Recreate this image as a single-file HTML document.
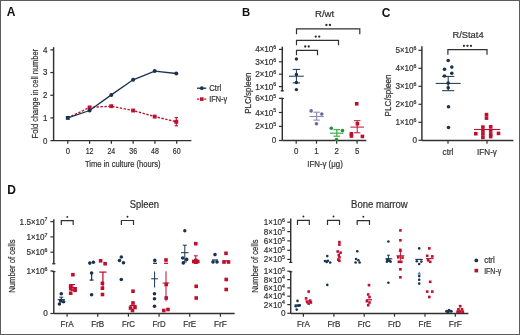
<!DOCTYPE html>
<html><head><meta charset="utf-8"><style>
html,body{margin:0;padding:0;background:#fff;}
svg{display:block;will-change:transform;}
text{font-family:"Liberation Sans", sans-serif;}
</style></head><body>
<svg width="520" height="335" viewBox="0 0 520 335">
<rect x="0.5" y="0.5" width="519" height="334" fill="#fff" stroke="#5c5c5c" stroke-width="1"/>
<text x="6.80" y="16.30" font-size="12.0" text-anchor="start" fill="#111" font-weight="bold" >A</text>
<line x1="53.60" y1="47.20" x2="53.60" y2="141.10" stroke="#303030" stroke-width="1.45" />
<line x1="53.60" y1="140.60" x2="191.40" y2="140.60" stroke="#303030" stroke-width="1.45" />
<line x1="50.40" y1="140.60" x2="53.60" y2="140.60" stroke="#303030" stroke-width="1.25" />
<text x="47.40" y="143.50" font-size="8.6" text-anchor="end" fill="#333333" font-weight="normal" stroke="#333333" stroke-width="0.22" textLength="4.4" lengthAdjust="spacingAndGlyphs" >0</text>
<line x1="50.40" y1="117.92" x2="53.60" y2="117.92" stroke="#303030" stroke-width="1.25" />
<text x="47.40" y="120.82" font-size="8.6" text-anchor="end" fill="#333333" font-weight="normal" stroke="#333333" stroke-width="0.22" textLength="4.4" lengthAdjust="spacingAndGlyphs" >1</text>
<line x1="50.40" y1="95.24" x2="53.60" y2="95.24" stroke="#303030" stroke-width="1.25" />
<text x="47.40" y="98.14" font-size="8.6" text-anchor="end" fill="#333333" font-weight="normal" stroke="#333333" stroke-width="0.22" textLength="4.4" lengthAdjust="spacingAndGlyphs" >2</text>
<line x1="50.40" y1="72.56" x2="53.60" y2="72.56" stroke="#303030" stroke-width="1.25" />
<text x="47.40" y="75.46" font-size="8.6" text-anchor="end" fill="#333333" font-weight="normal" stroke="#333333" stroke-width="0.22" textLength="4.4" lengthAdjust="spacingAndGlyphs" >3</text>
<line x1="50.40" y1="49.88" x2="53.60" y2="49.88" stroke="#303030" stroke-width="1.25" />
<text x="47.40" y="52.78" font-size="8.6" text-anchor="end" fill="#333333" font-weight="normal" stroke="#333333" stroke-width="0.22" textLength="4.4" lengthAdjust="spacingAndGlyphs" >4</text>
<line x1="67.80" y1="140.60" x2="67.80" y2="143.80" stroke="#303030" stroke-width="1.25" />
<text x="67.80" y="153.70" font-size="8.8" text-anchor="middle" fill="#333333" font-weight="normal" stroke="#333333" stroke-width="0.22" textLength="4.3" lengthAdjust="spacingAndGlyphs" >0</text>
<line x1="89.58" y1="140.60" x2="89.58" y2="143.80" stroke="#303030" stroke-width="1.25" />
<text x="89.58" y="153.70" font-size="8.8" text-anchor="middle" fill="#333333" font-weight="normal" stroke="#333333" stroke-width="0.22" textLength="7.8" lengthAdjust="spacingAndGlyphs" >12</text>
<line x1="111.36" y1="140.60" x2="111.36" y2="143.80" stroke="#303030" stroke-width="1.25" />
<text x="111.36" y="153.70" font-size="8.8" text-anchor="middle" fill="#333333" font-weight="normal" stroke="#333333" stroke-width="0.22" textLength="7.8" lengthAdjust="spacingAndGlyphs" >24</text>
<line x1="133.14" y1="140.60" x2="133.14" y2="143.80" stroke="#303030" stroke-width="1.25" />
<text x="133.14" y="153.70" font-size="8.8" text-anchor="middle" fill="#333333" font-weight="normal" stroke="#333333" stroke-width="0.22" textLength="7.8" lengthAdjust="spacingAndGlyphs" >36</text>
<line x1="154.92" y1="140.60" x2="154.92" y2="143.80" stroke="#303030" stroke-width="1.25" />
<text x="154.92" y="153.70" font-size="8.8" text-anchor="middle" fill="#333333" font-weight="normal" stroke="#333333" stroke-width="0.22" textLength="7.8" lengthAdjust="spacingAndGlyphs" >48</text>
<line x1="176.70" y1="140.60" x2="176.70" y2="143.80" stroke="#303030" stroke-width="1.25" />
<text x="176.70" y="153.70" font-size="8.8" text-anchor="middle" fill="#333333" font-weight="normal" stroke="#333333" stroke-width="0.22" textLength="7.8" lengthAdjust="spacingAndGlyphs" >60</text>
<text x="85.00" y="166.60" font-size="9.7" text-anchor="start" fill="#333333" font-weight="normal" stroke="#333333" stroke-width="0.22" textLength="75.5" lengthAdjust="spacingAndGlyphs" >Time in culture (hours)</text>
<text x="38.10" y="138.40" font-size="9.0" text-anchor="start" fill="#333333" font-weight="normal" stroke="#333333" stroke-width="0.22" textLength="89.5" lengthAdjust="spacingAndGlyphs" transform="rotate(-90 38.10 138.40)" >Fold change in cell number</text>
<polyline points="67.8,117.9 89.6,107.4 111.3,106.2 133.1,110.5 154.7,116.6 176.3,121.8" fill="none" stroke="#be0f2e" stroke-width="1.4" stroke-dasharray="2.4,1.5"/>
<polyline points="67.8,117.9 89.6,110.5 111.3,94.9 133.1,79.8 154.7,71.1 176.3,73.5" fill="none" stroke="#18324f" stroke-width="1.3"/>
<line x1="176.30" y1="117.60" x2="176.30" y2="125.80" stroke="#be0f2e" stroke-width="1.1" />
<line x1="174.60" y1="117.60" x2="178.00" y2="117.60" stroke="#be0f2e" stroke-width="1.1" />
<line x1="174.60" y1="125.80" x2="178.00" y2="125.80" stroke="#be0f2e" stroke-width="1.1" />
<rect x="87.65" y="105.45" width="3.9" height="3.9" fill="#be0f2e"/>
<rect x="109.35" y="104.25" width="3.9" height="3.9" fill="#be0f2e"/>
<rect x="131.15" y="108.55" width="3.9" height="3.9" fill="#be0f2e"/>
<rect x="152.75" y="114.65" width="3.9" height="3.9" fill="#be0f2e"/>
<rect x="174.35" y="119.85" width="3.9" height="3.9" fill="#be0f2e"/>
<circle cx="89.60" cy="110.50" r="2.0" fill="#18324f"/>
<circle cx="111.30" cy="94.90" r="2.0" fill="#18324f"/>
<circle cx="133.10" cy="79.80" r="2.0" fill="#18324f"/>
<circle cx="154.70" cy="71.10" r="2.0" fill="#18324f"/>
<circle cx="176.30" cy="73.50" r="2.0" fill="#18324f"/>
<rect x="65.85" y="115.95" width="3.9" height="3.9" fill="#18324f"/>
<line x1="197.00" y1="88.20" x2="206.30" y2="88.20" stroke="#18324f" stroke-width="1.3" />
<circle cx="201.80" cy="88.20" r="1.9" fill="#18324f"/>
<text x="209.20" y="91.10" font-size="8.8" text-anchor="start" fill="#333333" font-weight="normal" stroke="#333333" stroke-width="0.22" textLength="12.0" lengthAdjust="spacingAndGlyphs" >Ctrl</text>
<line x1="197.0" y1="99.1" x2="206.3" y2="99.1" stroke="#be0f2e" stroke-width="1.4" stroke-dasharray="2.2,1.4"/>
<rect x="200.00" y="97.30" width="3.6" height="3.6" fill="#be0f2e"/>
<text x="209.20" y="102.20" font-size="8.8" text-anchor="start" fill="#333333" font-weight="normal" stroke="#333333" stroke-width="0.22" textLength="18" lengthAdjust="spacingAndGlyphs" >IFN-γ</text>
<text x="241.90" y="16.10" font-size="11.3" text-anchor="start" fill="#111" font-weight="bold" >B</text>
<text x="314.90" y="17.00" font-size="9.4" text-anchor="start" fill="#333333" font-weight="normal" stroke="#333333" stroke-width="0.22" textLength="19.4" lengthAdjust="spacingAndGlyphs" >R/wt</text>
<path d="M296.50 34.20 V28.80 H359.80 V34.20" fill="none" stroke="#303030" stroke-width="1.2"/>
<circle cx="326.40" cy="25.00" r="1.15" fill="#2a2a2a"/>
<circle cx="329.90" cy="25.00" r="1.15" fill="#2a2a2a"/>
<path d="M296.50 45.20 V40.40 H338.50 V45.20" fill="none" stroke="#303030" stroke-width="1.2"/>
<circle cx="315.75" cy="36.60" r="1.15" fill="#2a2a2a"/>
<circle cx="319.25" cy="36.60" r="1.15" fill="#2a2a2a"/>
<path d="M296.50 55.20 V50.30 H317.50 V55.20" fill="none" stroke="#303030" stroke-width="1.2"/>
<circle cx="305.25" cy="46.50" r="1.15" fill="#2a2a2a"/>
<circle cx="308.75" cy="46.50" r="1.15" fill="#2a2a2a"/>
<line x1="282.30" y1="46.70" x2="282.30" y2="91.40" stroke="#303030" stroke-width="1.45" />
<line x1="280.70" y1="90.80" x2="283.90" y2="90.80" stroke="#303030" stroke-width="1.2" />
<line x1="278.90" y1="49.40" x2="282.30" y2="49.40" stroke="#303030" stroke-width="1.2" />
<text x="276.20" y="52.40" font-size="8.6" text-anchor="end" fill="#333333" font-weight="normal" stroke="#333333" stroke-width="0.22" textLength="21.07" lengthAdjust="spacingAndGlyphs" >4<tspan font-size="95%">×</tspan>10<tspan font-size="64%" dy="-3.2">6</tspan></text>
<line x1="278.90" y1="61.80" x2="282.30" y2="61.80" stroke="#303030" stroke-width="1.2" />
<text x="276.20" y="64.80" font-size="8.6" text-anchor="end" fill="#333333" font-weight="normal" stroke="#333333" stroke-width="0.22" textLength="21.07" lengthAdjust="spacingAndGlyphs" >3<tspan font-size="95%">×</tspan>10<tspan font-size="64%" dy="-3.2">6</tspan></text>
<line x1="278.90" y1="74.20" x2="282.30" y2="74.20" stroke="#303030" stroke-width="1.2" />
<text x="276.20" y="77.20" font-size="8.6" text-anchor="end" fill="#333333" font-weight="normal" stroke="#333333" stroke-width="0.22" textLength="21.07" lengthAdjust="spacingAndGlyphs" >2<tspan font-size="95%">×</tspan>10<tspan font-size="64%" dy="-3.2">6</tspan></text>
<line x1="278.90" y1="86.60" x2="282.30" y2="86.60" stroke="#303030" stroke-width="1.2" />
<text x="276.20" y="89.60" font-size="8.6" text-anchor="end" fill="#333333" font-weight="normal" stroke="#333333" stroke-width="0.22" textLength="21.07" lengthAdjust="spacingAndGlyphs" >1<tspan font-size="95%">×</tspan>10<tspan font-size="64%" dy="-3.2">6</tspan></text>
<line x1="282.30" y1="97.90" x2="282.30" y2="140.50" stroke="#303030" stroke-width="1.45" />
<line x1="280.70" y1="98.50" x2="283.90" y2="98.50" stroke="#303030" stroke-width="1.2" />
<line x1="278.90" y1="98.30" x2="282.30" y2="98.30" stroke="#303030" stroke-width="1.2" />
<text x="276.20" y="101.30" font-size="8.6" text-anchor="end" fill="#333333" font-weight="normal" stroke="#333333" stroke-width="0.22" textLength="21.07" lengthAdjust="spacingAndGlyphs" >6<tspan font-size="95%">×</tspan>10<tspan font-size="64%" dy="-3.2">5</tspan></text>
<line x1="278.90" y1="112.50" x2="282.30" y2="112.50" stroke="#303030" stroke-width="1.2" />
<text x="276.20" y="115.50" font-size="8.6" text-anchor="end" fill="#333333" font-weight="normal" stroke="#333333" stroke-width="0.22" textLength="21.07" lengthAdjust="spacingAndGlyphs" >4<tspan font-size="95%">×</tspan>10<tspan font-size="64%" dy="-3.2">5</tspan></text>
<line x1="278.90" y1="126.40" x2="282.30" y2="126.40" stroke="#303030" stroke-width="1.2" />
<text x="276.20" y="129.40" font-size="8.6" text-anchor="end" fill="#333333" font-weight="normal" stroke="#333333" stroke-width="0.22" textLength="21.07" lengthAdjust="spacingAndGlyphs" >2<tspan font-size="95%">×</tspan>10<tspan font-size="64%" dy="-3.2">5</tspan></text>
<line x1="278.90" y1="140.50" x2="282.30" y2="140.50" stroke="#303030" stroke-width="1.2" />
<text x="276.40" y="143.40" font-size="8.6" text-anchor="end" fill="#333333" font-weight="normal" stroke="#333333" stroke-width="0.22" textLength="4.54" lengthAdjust="spacingAndGlyphs" >0</text>
<line x1="282.30" y1="140.50" x2="366.30" y2="140.50" stroke="#303030" stroke-width="1.45" />
<line x1="296.20" y1="140.50" x2="296.20" y2="143.70" stroke="#303030" stroke-width="1.2" />
<text x="296.20" y="154.20" font-size="8.8" text-anchor="middle" fill="#333333" font-weight="normal" stroke="#333333" stroke-width="0.22" textLength="4.4" lengthAdjust="spacingAndGlyphs" >0</text>
<line x1="316.50" y1="140.50" x2="316.50" y2="143.70" stroke="#303030" stroke-width="1.2" />
<text x="316.50" y="154.20" font-size="8.8" text-anchor="middle" fill="#333333" font-weight="normal" stroke="#333333" stroke-width="0.22" textLength="4.4" lengthAdjust="spacingAndGlyphs" >1</text>
<line x1="336.70" y1="140.50" x2="336.70" y2="143.70" stroke="#303030" stroke-width="1.2" />
<text x="336.70" y="154.20" font-size="8.8" text-anchor="middle" fill="#333333" font-weight="normal" stroke="#333333" stroke-width="0.22" textLength="4.4" lengthAdjust="spacingAndGlyphs" >2</text>
<line x1="357.10" y1="140.50" x2="357.10" y2="143.70" stroke="#303030" stroke-width="1.2" />
<text x="357.10" y="154.20" font-size="8.8" text-anchor="middle" fill="#333333" font-weight="normal" stroke="#333333" stroke-width="0.22" textLength="4.4" lengthAdjust="spacingAndGlyphs" >5</text>
<text x="325.00" y="167.00" font-size="9.0" text-anchor="middle" fill="#333333" font-weight="normal" stroke="#333333" stroke-width="0.22" textLength="35.5" lengthAdjust="spacingAndGlyphs" >IFN-γ (μg)</text>
<text x="251.00" y="113.70" font-size="8.8" text-anchor="start" fill="#333333" font-weight="normal" stroke="#333333" stroke-width="0.22" textLength="41.2" lengthAdjust="spacingAndGlyphs" transform="rotate(-90 251.00 113.70)" >PLC/spleen</text>
<circle cx="296.40" cy="59.00" r="1.7" fill="#18324f"/>
<circle cx="296.40" cy="74.50" r="1.7" fill="#18324f"/>
<circle cx="296.40" cy="82.50" r="1.7" fill="#18324f"/>
<circle cx="296.40" cy="89.60" r="1.7" fill="#18324f"/>
<line x1="289.00" y1="76.20" x2="303.80" y2="76.20" stroke="#18324f" stroke-width="1.0" />
<line x1="296.40" y1="69.40" x2="296.40" y2="82.90" stroke="#18324f" stroke-width="1.0" />
<line x1="292.70" y1="69.40" x2="300.10" y2="69.40" stroke="#18324f" stroke-width="1.0" />
<line x1="292.70" y1="82.90" x2="300.10" y2="82.90" stroke="#18324f" stroke-width="1.0" />
<circle cx="311.10" cy="110.90" r="1.8" fill="#6b6996"/>
<circle cx="321.80" cy="114.00" r="1.8" fill="#6b6996"/>
<circle cx="316.50" cy="123.70" r="1.8" fill="#6b6996"/>
<line x1="309.40" y1="116.50" x2="323.80" y2="116.50" stroke="#8b89b6" stroke-width="1.1" />
<line x1="316.60" y1="112.20" x2="316.60" y2="120.10" stroke="#8b89b6" stroke-width="1.1" />
<line x1="313.40" y1="112.20" x2="319.80" y2="112.20" stroke="#8b89b6" stroke-width="1.1" />
<line x1="313.40" y1="120.10" x2="319.80" y2="120.10" stroke="#8b89b6" stroke-width="1.1" />
<circle cx="331.30" cy="128.30" r="1.8" fill="#2d8a3a"/>
<circle cx="342.50" cy="130.60" r="1.8" fill="#2d8a3a"/>
<circle cx="336.50" cy="139.60" r="1.8" fill="#2d8a3a"/>
<line x1="330.10" y1="133.20" x2="343.50" y2="133.20" stroke="#3fae4b" stroke-width="1.2" />
<line x1="336.80" y1="129.60" x2="336.80" y2="136.20" stroke="#3fae4b" stroke-width="1.2" />
<line x1="333.40" y1="129.60" x2="340.20" y2="129.60" stroke="#3fae4b" stroke-width="1.2" />
<line x1="333.40" y1="136.20" x2="340.20" y2="136.20" stroke="#3fae4b" stroke-width="1.2" />
<rect x="354.90" y="102.00" width="3.6" height="3.6" fill="#be0f2e"/>
<rect x="355.60" y="121.90" width="3.6" height="3.6" fill="#be0f2e"/>
<rect x="349.60" y="132.00" width="3.6" height="3.6" fill="#be0f2e"/>
<rect x="349.60" y="134.20" width="3.6" height="3.6" fill="#be0f2e"/>
<rect x="360.60" y="134.60" width="3.6" height="3.6" fill="#be0f2e"/>
<line x1="350.40" y1="127.10" x2="364.00" y2="127.10" stroke="#be0f2e" stroke-width="1.0" />
<line x1="357.20" y1="120.70" x2="357.20" y2="132.80" stroke="#be0f2e" stroke-width="1.0" />
<line x1="354.00" y1="120.70" x2="360.40" y2="120.70" stroke="#be0f2e" stroke-width="1.0" />
<line x1="354.00" y1="132.80" x2="360.40" y2="132.80" stroke="#be0f2e" stroke-width="1.0" />
<text x="381.70" y="16.60" font-size="12.0" text-anchor="start" fill="#111" font-weight="bold" >C</text>
<text x="452.40" y="37.60" font-size="9.2" text-anchor="start" fill="#333333" font-weight="normal" stroke="#333333" stroke-width="0.22" textLength="31.2" lengthAdjust="spacingAndGlyphs" >R/Stat4</text>
<path d="M447.90 54.80 V49.60 H487.00 V54.80" fill="none" stroke="#303030" stroke-width="1.2"/>
<circle cx="463.95" cy="45.80" r="1.15" fill="#2a2a2a"/>
<circle cx="467.45" cy="45.80" r="1.15" fill="#2a2a2a"/>
<circle cx="470.95" cy="45.80" r="1.15" fill="#2a2a2a"/>
<line x1="421.90" y1="46.20" x2="421.90" y2="140.50" stroke="#303030" stroke-width="1.45" />
<line x1="418.50" y1="140.30" x2="421.90" y2="140.30" stroke="#303030" stroke-width="1.2" />
<text x="417.00" y="143.30" font-size="8.6" text-anchor="end" fill="#333333" font-weight="normal" stroke="#333333" stroke-width="0.22" textLength="4.54" lengthAdjust="spacingAndGlyphs" >0</text>
<line x1="418.50" y1="122.30" x2="421.90" y2="122.30" stroke="#303030" stroke-width="1.2" />
<text x="416.50" y="125.30" font-size="8.6" text-anchor="end" fill="#333333" font-weight="normal" stroke="#333333" stroke-width="0.22" textLength="21.07" lengthAdjust="spacingAndGlyphs" >1<tspan font-size="95%">×</tspan>10<tspan font-size="64%" dy="-3.2">6</tspan></text>
<line x1="418.50" y1="104.30" x2="421.90" y2="104.30" stroke="#303030" stroke-width="1.2" />
<text x="416.50" y="107.30" font-size="8.6" text-anchor="end" fill="#333333" font-weight="normal" stroke="#333333" stroke-width="0.22" textLength="21.07" lengthAdjust="spacingAndGlyphs" >2<tspan font-size="95%">×</tspan>10<tspan font-size="64%" dy="-3.2">6</tspan></text>
<line x1="418.50" y1="86.30" x2="421.90" y2="86.30" stroke="#303030" stroke-width="1.2" />
<text x="416.50" y="89.30" font-size="8.6" text-anchor="end" fill="#333333" font-weight="normal" stroke="#333333" stroke-width="0.22" textLength="21.07" lengthAdjust="spacingAndGlyphs" >3<tspan font-size="95%">×</tspan>10<tspan font-size="64%" dy="-3.2">6</tspan></text>
<line x1="418.50" y1="68.30" x2="421.90" y2="68.30" stroke="#303030" stroke-width="1.2" />
<text x="416.50" y="71.30" font-size="8.6" text-anchor="end" fill="#333333" font-weight="normal" stroke="#333333" stroke-width="0.22" textLength="21.07" lengthAdjust="spacingAndGlyphs" >4<tspan font-size="95%">×</tspan>10<tspan font-size="64%" dy="-3.2">6</tspan></text>
<line x1="418.50" y1="50.30" x2="421.90" y2="50.30" stroke="#303030" stroke-width="1.2" />
<text x="416.50" y="53.30" font-size="8.6" text-anchor="end" fill="#333333" font-weight="normal" stroke="#333333" stroke-width="0.22" textLength="21.07" lengthAdjust="spacingAndGlyphs" >5<tspan font-size="95%">×</tspan>10<tspan font-size="64%" dy="-3.2">6</tspan></text>
<line x1="421.90" y1="140.50" x2="513.40" y2="140.50" stroke="#303030" stroke-width="1.45" />
<line x1="448.00" y1="140.50" x2="448.00" y2="143.70" stroke="#303030" stroke-width="1.2" />
<text x="448.00" y="155.00" font-size="9.0" text-anchor="middle" fill="#333333" font-weight="normal" stroke="#333333" stroke-width="0.22" textLength="10.797046875" lengthAdjust="spacingAndGlyphs" >ctrl</text>
<line x1="487.00" y1="140.50" x2="487.00" y2="143.70" stroke="#303030" stroke-width="1.2" />
<text x="487.00" y="155.00" font-size="9.0" text-anchor="middle" fill="#333333" font-weight="normal" stroke="#333333" stroke-width="0.22" textLength="19.794375" lengthAdjust="spacingAndGlyphs" >IFN-γ</text>
<text x="391.20" y="116.40" font-size="8.6" text-anchor="start" fill="#333333" font-weight="normal" stroke="#333333" stroke-width="0.22" textLength="42" lengthAdjust="spacingAndGlyphs" transform="rotate(-90 391.20 116.40)" >PLC/spleen</text>
<circle cx="448.20" cy="60.50" r="1.8" fill="#18324f"/>
<circle cx="444.50" cy="69.30" r="1.8" fill="#18324f"/>
<circle cx="451.80" cy="67.10" r="1.8" fill="#18324f"/>
<circle cx="451.80" cy="73.30" r="1.8" fill="#18324f"/>
<circle cx="444.50" cy="76.00" r="1.8" fill="#18324f"/>
<circle cx="448.20" cy="83.10" r="1.8" fill="#18324f"/>
<circle cx="448.20" cy="87.70" r="1.8" fill="#18324f"/>
<circle cx="448.50" cy="106.80" r="1.8" fill="#18324f"/>
<circle cx="448.50" cy="127.50" r="1.8" fill="#18324f"/>
<line x1="435.70" y1="83.40" x2="460.70" y2="83.40" stroke="#18324f" stroke-width="1.0" />
<line x1="448.20" y1="76.40" x2="448.20" y2="90.70" stroke="#18324f" stroke-width="1.0" />
<line x1="442.10" y1="76.40" x2="454.30" y2="76.40" stroke="#18324f" stroke-width="1.0" />
<line x1="442.10" y1="90.70" x2="454.30" y2="90.70" stroke="#18324f" stroke-width="1.0" />
<rect x="484.70" y="112.80" width="3.6" height="3.6" fill="#be0f2e"/>
<rect x="484.70" y="116.30" width="3.6" height="3.6" fill="#be0f2e"/>
<rect x="481.10" y="125.30" width="3.6" height="3.6" fill="#be0f2e"/>
<rect x="488.90" y="125.00" width="3.6" height="3.6" fill="#be0f2e"/>
<rect x="481.10" y="129.00" width="3.6" height="3.6" fill="#be0f2e"/>
<rect x="488.90" y="128.70" width="3.6" height="3.6" fill="#be0f2e"/>
<rect x="474.00" y="131.90" width="3.6" height="3.6" fill="#be0f2e"/>
<rect x="496.70" y="131.60" width="3.6" height="3.6" fill="#be0f2e"/>
<rect x="481.10" y="132.20" width="3.6" height="3.6" fill="#be0f2e"/>
<rect x="488.90" y="132.20" width="3.6" height="3.6" fill="#be0f2e"/>
<rect x="481.10" y="135.60" width="3.6" height="3.6" fill="#be0f2e"/>
<rect x="488.90" y="134.80" width="3.6" height="3.6" fill="#be0f2e"/>
<line x1="474.00" y1="129.50" x2="500.30" y2="129.50" stroke="#be0f2e" stroke-width="1.1" />
<text x="7.20" y="194.10" font-size="12.0" text-anchor="start" fill="#111" font-weight="bold" >D</text>
<text x="129.70" y="208.00" font-size="10.0" text-anchor="start" fill="#333333" font-weight="normal" stroke="#333333" stroke-width="0.22" textLength="29.3" lengthAdjust="spacingAndGlyphs" >Spleen</text>
<text x="351.10" y="208.30" font-size="10.0" text-anchor="start" fill="#333333" font-weight="normal" stroke="#333333" stroke-width="0.22" textLength="56.6" lengthAdjust="spacingAndGlyphs" >Bone marrow</text>
<line x1="53.80" y1="219.20" x2="53.80" y2="264.30" stroke="#303030" stroke-width="1.45" />
<line x1="52.20" y1="263.70" x2="55.40" y2="263.70" stroke="#303030" stroke-width="1.2" />
<line x1="50.40" y1="221.60" x2="53.80" y2="221.60" stroke="#303030" stroke-width="1.2" />
<text x="47.50" y="224.60" font-size="8.6" text-anchor="end" fill="#333333" font-weight="normal" stroke="#333333" stroke-width="0.22" textLength="27.88" lengthAdjust="spacingAndGlyphs" >1.5<tspan font-size="95%">×</tspan>10<tspan font-size="64%" dy="-3.2">7</tspan></text>
<line x1="50.40" y1="236.90" x2="53.80" y2="236.90" stroke="#303030" stroke-width="1.2" />
<text x="47.50" y="239.90" font-size="8.6" text-anchor="end" fill="#333333" font-weight="normal" stroke="#333333" stroke-width="0.22" textLength="21.07" lengthAdjust="spacingAndGlyphs" >1<tspan font-size="95%">×</tspan>10<tspan font-size="64%" dy="-3.2">7</tspan></text>
<line x1="50.40" y1="252.20" x2="53.80" y2="252.20" stroke="#303030" stroke-width="1.2" />
<text x="47.50" y="255.20" font-size="8.6" text-anchor="end" fill="#333333" font-weight="normal" stroke="#333333" stroke-width="0.22" textLength="21.07" lengthAdjust="spacingAndGlyphs" >5<tspan font-size="95%">×</tspan>10<tspan font-size="64%" dy="-3.2">6</tspan></text>
<line x1="53.80" y1="271.00" x2="53.80" y2="313.50" stroke="#303030" stroke-width="1.45" />
<line x1="52.20" y1="271.60" x2="55.40" y2="271.60" stroke="#303030" stroke-width="1.2" />
<line x1="50.40" y1="271.00" x2="53.80" y2="271.00" stroke="#303030" stroke-width="1.2" />
<text x="47.50" y="274.00" font-size="8.6" text-anchor="end" fill="#333333" font-weight="normal" stroke="#333333" stroke-width="0.22" textLength="21.07" lengthAdjust="spacingAndGlyphs" >1<tspan font-size="95%">×</tspan>10<tspan font-size="64%" dy="-3.2">6</tspan></text>
<line x1="50.40" y1="313.50" x2="53.80" y2="313.50" stroke="#303030" stroke-width="1.2" />
<text x="47.90" y="316.30" font-size="8.6" text-anchor="end" fill="#333333" font-weight="normal" stroke="#333333" stroke-width="0.22" textLength="4.54" lengthAdjust="spacingAndGlyphs" >0</text>
<line x1="53.80" y1="313.50" x2="234.60" y2="313.50" stroke="#303030" stroke-width="1.45" />
<line x1="67.10" y1="313.50" x2="67.10" y2="316.70" stroke="#303030" stroke-width="1.2" />
<text x="67.10" y="326.50" font-size="9.4" text-anchor="middle" fill="#333333" font-weight="normal" stroke="#333333" stroke-width="0.22" textLength="13.0" lengthAdjust="spacingAndGlyphs" >FrA</text>
<line x1="97.76" y1="313.50" x2="97.76" y2="316.70" stroke="#303030" stroke-width="1.2" />
<text x="97.76" y="326.50" font-size="9.4" text-anchor="middle" fill="#333333" font-weight="normal" stroke="#333333" stroke-width="0.22" textLength="13.0" lengthAdjust="spacingAndGlyphs" >FrB</text>
<line x1="128.42" y1="313.50" x2="128.42" y2="316.70" stroke="#303030" stroke-width="1.2" />
<text x="128.42" y="326.50" font-size="9.4" text-anchor="middle" fill="#333333" font-weight="normal" stroke="#333333" stroke-width="0.22" textLength="13.0" lengthAdjust="spacingAndGlyphs" >FrC</text>
<line x1="159.08" y1="313.50" x2="159.08" y2="316.70" stroke="#303030" stroke-width="1.2" />
<text x="159.08" y="326.50" font-size="9.4" text-anchor="middle" fill="#333333" font-weight="normal" stroke="#333333" stroke-width="0.22" textLength="13.0" lengthAdjust="spacingAndGlyphs" >FrD</text>
<line x1="189.74" y1="313.50" x2="189.74" y2="316.70" stroke="#303030" stroke-width="1.2" />
<text x="189.74" y="326.50" font-size="9.4" text-anchor="middle" fill="#333333" font-weight="normal" stroke="#333333" stroke-width="0.22" textLength="13.0" lengthAdjust="spacingAndGlyphs" >FrE</text>
<line x1="220.40" y1="313.50" x2="220.40" y2="316.70" stroke="#303030" stroke-width="1.2" />
<text x="220.40" y="326.50" font-size="9.4" text-anchor="middle" fill="#333333" font-weight="normal" stroke="#333333" stroke-width="0.22" textLength="13.0" lengthAdjust="spacingAndGlyphs" >FrF</text>
<text x="14.80" y="292.70" font-size="9.0" text-anchor="start" fill="#333333" font-weight="normal" stroke="#333333" stroke-width="0.22" textLength="53.3" lengthAdjust="spacingAndGlyphs" transform="rotate(-90 14.80 292.70)" >Number of cells</text>
<path d="M61.30 225.10 V220.70 H73.20 V225.10" fill="none" stroke="#303030" stroke-width="1.2"/>
<circle cx="67.25" cy="216.90" r="0.95" fill="#2a2a2a"/>
<path d="M121.40 225.10 V220.50 H133.50 V225.10" fill="none" stroke="#303030" stroke-width="1.2"/>
<circle cx="127.45" cy="216.70" r="0.95" fill="#2a2a2a"/>
<line x1="290.70" y1="218.50" x2="290.70" y2="263.00" stroke="#303030" stroke-width="1.45" />
<line x1="289.10" y1="262.40" x2="292.30" y2="262.40" stroke="#303030" stroke-width="1.2" />
<line x1="287.30" y1="222.20" x2="290.70" y2="222.20" stroke="#303030" stroke-width="1.2" />
<text x="284.90" y="225.20" font-size="8.6" text-anchor="end" fill="#333333" font-weight="normal" stroke="#333333" stroke-width="0.22" textLength="21.07" lengthAdjust="spacingAndGlyphs" >1<tspan font-size="95%">×</tspan>10<tspan font-size="64%" dy="-3.2">6</tspan></text>
<line x1="287.30" y1="231.60" x2="290.70" y2="231.60" stroke="#303030" stroke-width="1.2" />
<text x="284.90" y="234.60" font-size="8.6" text-anchor="end" fill="#333333" font-weight="normal" stroke="#333333" stroke-width="0.22" textLength="21.07" lengthAdjust="spacingAndGlyphs" >8<tspan font-size="95%">×</tspan>10<tspan font-size="64%" dy="-3.2">5</tspan></text>
<line x1="287.30" y1="240.90" x2="290.70" y2="240.90" stroke="#303030" stroke-width="1.2" />
<text x="284.90" y="243.90" font-size="8.6" text-anchor="end" fill="#333333" font-weight="normal" stroke="#333333" stroke-width="0.22" textLength="21.07" lengthAdjust="spacingAndGlyphs" >6<tspan font-size="95%">×</tspan>10<tspan font-size="64%" dy="-3.2">5</tspan></text>
<line x1="287.30" y1="250.30" x2="290.70" y2="250.30" stroke="#303030" stroke-width="1.2" />
<text x="284.90" y="253.30" font-size="8.6" text-anchor="end" fill="#333333" font-weight="normal" stroke="#333333" stroke-width="0.22" textLength="21.07" lengthAdjust="spacingAndGlyphs" >4<tspan font-size="95%">×</tspan>10<tspan font-size="64%" dy="-3.2">5</tspan></text>
<line x1="287.30" y1="259.40" x2="290.70" y2="259.40" stroke="#303030" stroke-width="1.2" />
<text x="284.90" y="262.40" font-size="8.6" text-anchor="end" fill="#333333" font-weight="normal" stroke="#333333" stroke-width="0.22" textLength="21.07" lengthAdjust="spacingAndGlyphs" >2<tspan font-size="95%">×</tspan>10<tspan font-size="64%" dy="-3.2">5</tspan></text>
<line x1="290.70" y1="271.20" x2="290.70" y2="313.50" stroke="#303030" stroke-width="1.45" />
<line x1="289.10" y1="271.80" x2="292.30" y2="271.80" stroke="#303030" stroke-width="1.2" />
<line x1="287.30" y1="271.20" x2="290.70" y2="271.20" stroke="#303030" stroke-width="1.2" />
<text x="284.90" y="274.20" font-size="8.6" text-anchor="end" fill="#333333" font-weight="normal" stroke="#333333" stroke-width="0.22" textLength="21.07" lengthAdjust="spacingAndGlyphs" >1<tspan font-size="95%">×</tspan>10<tspan font-size="64%" dy="-3.2">5</tspan></text>
<line x1="287.30" y1="279.60" x2="290.70" y2="279.60" stroke="#303030" stroke-width="1.2" />
<text x="284.90" y="282.60" font-size="8.6" text-anchor="end" fill="#333333" font-weight="normal" stroke="#333333" stroke-width="0.22" textLength="21.07" lengthAdjust="spacingAndGlyphs" >8<tspan font-size="95%">×</tspan>10<tspan font-size="64%" dy="-3.2">4</tspan></text>
<line x1="287.30" y1="287.90" x2="290.70" y2="287.90" stroke="#303030" stroke-width="1.2" />
<text x="284.90" y="290.90" font-size="8.6" text-anchor="end" fill="#333333" font-weight="normal" stroke="#333333" stroke-width="0.22" textLength="21.07" lengthAdjust="spacingAndGlyphs" >6<tspan font-size="95%">×</tspan>10<tspan font-size="64%" dy="-3.2">4</tspan></text>
<line x1="287.30" y1="296.20" x2="290.70" y2="296.20" stroke="#303030" stroke-width="1.2" />
<text x="284.90" y="299.20" font-size="8.6" text-anchor="end" fill="#333333" font-weight="normal" stroke="#333333" stroke-width="0.22" textLength="21.07" lengthAdjust="spacingAndGlyphs" >4<tspan font-size="95%">×</tspan>10<tspan font-size="64%" dy="-3.2">4</tspan></text>
<line x1="287.30" y1="304.60" x2="290.70" y2="304.60" stroke="#303030" stroke-width="1.2" />
<text x="284.90" y="307.60" font-size="8.6" text-anchor="end" fill="#333333" font-weight="normal" stroke="#333333" stroke-width="0.22" textLength="21.07" lengthAdjust="spacingAndGlyphs" >2<tspan font-size="95%">×</tspan>10<tspan font-size="64%" dy="-3.2">4</tspan></text>
<line x1="287.30" y1="313.30" x2="290.70" y2="313.30" stroke="#303030" stroke-width="1.2" />
<text x="285.60" y="316.10" font-size="8.6" text-anchor="end" fill="#333333" font-weight="normal" stroke="#333333" stroke-width="0.22" textLength="4.54" lengthAdjust="spacingAndGlyphs" >0</text>
<line x1="290.70" y1="313.50" x2="468.40" y2="313.50" stroke="#303030" stroke-width="1.45" />
<line x1="303.40" y1="313.50" x2="303.40" y2="316.70" stroke="#303030" stroke-width="1.2" />
<text x="303.40" y="326.50" font-size="9.4" text-anchor="middle" fill="#333333" font-weight="normal" stroke="#333333" stroke-width="0.22" textLength="13.0" lengthAdjust="spacingAndGlyphs" >FrA</text>
<line x1="333.90" y1="313.50" x2="333.90" y2="316.70" stroke="#303030" stroke-width="1.2" />
<text x="333.90" y="326.50" font-size="9.4" text-anchor="middle" fill="#333333" font-weight="normal" stroke="#333333" stroke-width="0.22" textLength="13.0" lengthAdjust="spacingAndGlyphs" >FrB</text>
<line x1="364.20" y1="313.50" x2="364.20" y2="316.70" stroke="#303030" stroke-width="1.2" />
<text x="364.20" y="326.50" font-size="9.4" text-anchor="middle" fill="#333333" font-weight="normal" stroke="#333333" stroke-width="0.22" textLength="13.0" lengthAdjust="spacingAndGlyphs" >FrC</text>
<line x1="394.50" y1="313.50" x2="394.50" y2="316.70" stroke="#303030" stroke-width="1.2" />
<text x="394.50" y="326.50" font-size="9.4" text-anchor="middle" fill="#333333" font-weight="normal" stroke="#333333" stroke-width="0.22" textLength="13.0" lengthAdjust="spacingAndGlyphs" >FrD</text>
<line x1="425.00" y1="313.50" x2="425.00" y2="316.70" stroke="#303030" stroke-width="1.2" />
<text x="425.00" y="326.50" font-size="9.4" text-anchor="middle" fill="#333333" font-weight="normal" stroke="#333333" stroke-width="0.22" textLength="13.0" lengthAdjust="spacingAndGlyphs" >FrE</text>
<line x1="455.30" y1="313.50" x2="455.30" y2="316.70" stroke="#303030" stroke-width="1.2" />
<text x="455.30" y="326.50" font-size="9.4" text-anchor="middle" fill="#333333" font-weight="normal" stroke="#333333" stroke-width="0.22" textLength="13.0" lengthAdjust="spacingAndGlyphs" >FrF</text>
<text x="258.20" y="292.70" font-size="9.0" text-anchor="start" fill="#333333" font-weight="normal" stroke="#333333" stroke-width="0.22" textLength="53.3" lengthAdjust="spacingAndGlyphs" transform="rotate(-90 258.20 292.70)" >Number of cells</text>
<path d="M297.50 225.10 V220.30 H309.30 V225.10" fill="none" stroke="#303030" stroke-width="1.2"/>
<circle cx="303.40" cy="216.50" r="0.95" fill="#2a2a2a"/>
<path d="M327.50 225.10 V220.30 H339.50 V225.10" fill="none" stroke="#303030" stroke-width="1.2"/>
<circle cx="333.50" cy="216.50" r="0.95" fill="#2a2a2a"/>
<path d="M357.20 225.10 V220.60 H369.50 V225.10" fill="none" stroke="#303030" stroke-width="1.2"/>
<circle cx="363.35" cy="216.80" r="0.95" fill="#2a2a2a"/>
<circle cx="476.30" cy="260.40" r="1.9" fill="#18324f"/>
<text x="484.20" y="263.40" font-size="9.0" text-anchor="start" fill="#333333" font-weight="normal" stroke="#333333" stroke-width="0.22" textLength="10.5" lengthAdjust="spacingAndGlyphs" >ctrl</text>
<rect x="474.50" y="268.80" width="3.6" height="3.6" fill="#be0f2e"/>
<text x="484.20" y="273.70" font-size="9.0" text-anchor="start" fill="#333333" font-weight="normal" stroke="#333333" stroke-width="0.22" textLength="17" lengthAdjust="spacingAndGlyphs" >IFN-γ</text>
<circle cx="61.30" cy="293.70" r="1.8" fill="#18324f"/>
<circle cx="59.40" cy="304.00" r="1.8" fill="#18324f"/>
<circle cx="63.60" cy="301.80" r="1.8" fill="#18324f"/>
<circle cx="60.60" cy="300.60" r="1.8" fill="#18324f"/>
<line x1="57.70" y1="299.60" x2="64.90" y2="299.60" stroke="#18324f" stroke-width="1.0" />
<line x1="61.30" y1="297.20" x2="61.30" y2="302.00" stroke="#18324f" stroke-width="1.0" />
<line x1="59.30" y1="297.20" x2="63.30" y2="297.20" stroke="#18324f" stroke-width="1.0" />
<line x1="59.30" y1="302.00" x2="63.30" y2="302.00" stroke="#18324f" stroke-width="1.0" />
<rect x="71.10" y="272.90" width="3.6" height="3.6" fill="#be0f2e"/>
<rect x="68.90" y="284.10" width="3.6" height="3.6" fill="#be0f2e"/>
<rect x="73.30" y="288.50" width="3.6" height="3.6" fill="#be0f2e"/>
<rect x="68.90" y="291.40" width="3.6" height="3.6" fill="#be0f2e"/>
<rect x="73.30" y="287.20" width="3.6" height="3.6" fill="#be0f2e"/>
<rect x="68.90" y="286.80" width="3.6" height="3.6" fill="#be0f2e"/>
<line x1="68.90" y1="287.50" x2="76.90" y2="287.50" stroke="#be0f2e" stroke-width="1.0" />
<line x1="72.90" y1="284.50" x2="72.90" y2="290.50" stroke="#be0f2e" stroke-width="1.0" />
<line x1="70.70" y1="284.50" x2="75.10" y2="284.50" stroke="#be0f2e" stroke-width="1.0" />
<line x1="70.70" y1="290.50" x2="75.10" y2="290.50" stroke="#be0f2e" stroke-width="1.0" />
<circle cx="89.80" cy="263.10" r="1.8" fill="#18324f"/>
<circle cx="93.40" cy="262.20" r="1.8" fill="#18324f"/>
<circle cx="91.60" cy="273.00" r="1.8" fill="#18324f"/>
<circle cx="91.60" cy="294.80" r="1.8" fill="#18324f"/>
<line x1="91.60" y1="273.00" x2="91.60" y2="280.10" stroke="#18324f" stroke-width="1.25" />
<line x1="89.60" y1="280.10" x2="93.60" y2="280.10" stroke="#18324f" stroke-width="1.25" />
<rect x="98.80" y="259.00" width="3.6" height="3.6" fill="#be0f2e"/>
<rect x="103.30" y="261.90" width="3.6" height="3.6" fill="#be0f2e"/>
<rect x="100.60" y="281.50" width="3.6" height="3.6" fill="#be0f2e"/>
<rect x="100.60" y="286.40" width="3.6" height="3.6" fill="#be0f2e"/>
<rect x="100.70" y="292.70" width="3.6" height="3.6" fill="#be0f2e"/>
<line x1="102.90" y1="272.10" x2="102.90" y2="288.00" stroke="#be0f2e" stroke-width="1.25" />
<line x1="99.30" y1="272.10" x2="106.50" y2="272.10" stroke="#be0f2e" stroke-width="1.25" />
<circle cx="121.30" cy="257.00" r="1.8" fill="#18324f"/>
<circle cx="119.50" cy="260.50" r="1.8" fill="#18324f"/>
<circle cx="123.50" cy="262.80" r="1.8" fill="#18324f"/>
<circle cx="121.30" cy="279.50" r="1.8" fill="#18324f"/>
<rect x="131.20" y="289.40" width="3.6" height="3.6" fill="#be0f2e"/>
<rect x="131.20" y="301.20" width="3.6" height="3.6" fill="#be0f2e"/>
<rect x="128.70" y="306.20" width="3.6" height="3.6" fill="#be0f2e"/>
<rect x="133.20" y="305.70" width="3.6" height="3.6" fill="#be0f2e"/>
<rect x="130.70" y="308.70" width="3.6" height="3.6" fill="#be0f2e"/>
<line x1="129.50" y1="305.50" x2="136.50" y2="305.50" stroke="#be0f2e" stroke-width="1.25" />
<circle cx="154.80" cy="260.40" r="1.8" fill="#18324f"/>
<circle cx="154.50" cy="293.80" r="1.8" fill="#18324f"/>
<circle cx="154.50" cy="298.80" r="1.8" fill="#18324f"/>
<circle cx="154.50" cy="306.20" r="1.8" fill="#18324f"/>
<line x1="153.00" y1="263.30" x2="157.00" y2="263.30" stroke="#18324f" stroke-width="1.25" />
<line x1="151.20" y1="278.80" x2="158.00" y2="278.80" stroke="#18324f" stroke-width="1.0" />
<line x1="154.60" y1="271.50" x2="154.60" y2="287.50" stroke="#18324f" stroke-width="1.0" />
<line x1="154.59" y1="271.50" x2="154.61" y2="271.50" stroke="#18324f" stroke-width="1.0" />
<line x1="154.59" y1="287.50" x2="154.61" y2="287.50" stroke="#18324f" stroke-width="1.0" />
<rect x="164.20" y="258.20" width="3.6" height="3.6" fill="#be0f2e"/>
<rect x="164.40" y="282.70" width="3.6" height="3.6" fill="#be0f2e"/>
<rect x="164.40" y="296.20" width="3.6" height="3.6" fill="#be0f2e"/>
<rect x="162.00" y="308.70" width="3.6" height="3.6" fill="#be0f2e"/>
<rect x="166.20" y="307.70" width="3.6" height="3.6" fill="#be0f2e"/>
<line x1="164.00" y1="263.30" x2="168.00" y2="263.30" stroke="#be0f2e" stroke-width="1.25" />
<line x1="162.60" y1="283.00" x2="169.40" y2="283.00" stroke="#be0f2e" stroke-width="1.0" />
<line x1="166.00" y1="271.30" x2="166.00" y2="301.30" stroke="#be0f2e" stroke-width="1.0" />
<line x1="165.99" y1="271.30" x2="166.01" y2="271.30" stroke="#be0f2e" stroke-width="1.0" />
<line x1="165.99" y1="301.30" x2="166.01" y2="301.30" stroke="#be0f2e" stroke-width="1.0" />
<circle cx="184.80" cy="230.80" r="1.7" fill="#18324f"/>
<circle cx="182.70" cy="258.00" r="1.8" fill="#18324f"/>
<circle cx="186.70" cy="259.40" r="1.8" fill="#18324f"/>
<circle cx="183.30" cy="262.90" r="1.8" fill="#18324f"/>
<line x1="181.00" y1="252.70" x2="188.60" y2="252.70" stroke="#18324f" stroke-width="1.0" />
<line x1="184.80" y1="245.20" x2="184.80" y2="262.00" stroke="#18324f" stroke-width="1.0" />
<line x1="182.80" y1="245.20" x2="186.80" y2="245.20" stroke="#18324f" stroke-width="1.0" />
<line x1="182.80" y1="262.00" x2="186.80" y2="262.00" stroke="#18324f" stroke-width="1.0" />
<rect x="194.00" y="241.90" width="3.6" height="3.6" fill="#be0f2e"/>
<rect x="192.00" y="259.70" width="3.6" height="3.6" fill="#be0f2e"/>
<rect x="195.90" y="259.70" width="3.6" height="3.6" fill="#be0f2e"/>
<rect x="194.00" y="258.60" width="3.6" height="3.6" fill="#be0f2e"/>
<rect x="194.40" y="284.50" width="3.6" height="3.6" fill="#be0f2e"/>
<rect x="194.40" y="296.20" width="3.6" height="3.6" fill="#be0f2e"/>
<line x1="192.30" y1="262.00" x2="199.30" y2="262.00" stroke="#be0f2e" stroke-width="1.0" />
<line x1="195.80" y1="255.80" x2="195.80" y2="263.50" stroke="#be0f2e" stroke-width="1.0" />
<line x1="193.80" y1="255.80" x2="197.80" y2="255.80" stroke="#be0f2e" stroke-width="1.0" />
<line x1="193.80" y1="263.50" x2="197.80" y2="263.50" stroke="#be0f2e" stroke-width="1.0" />
<circle cx="215.00" cy="254.60" r="1.8" fill="#18324f"/>
<circle cx="213.00" cy="262.00" r="1.8" fill="#18324f"/>
<circle cx="217.00" cy="262.00" r="1.8" fill="#18324f"/>
<line x1="212.00" y1="260.00" x2="218.00" y2="260.00" stroke="#18324f" stroke-width="1.25" />
<rect x="224.20" y="251.50" width="3.6" height="3.6" fill="#be0f2e"/>
<rect x="222.20" y="260.20" width="3.6" height="3.6" fill="#be0f2e"/>
<rect x="226.70" y="260.20" width="3.6" height="3.6" fill="#be0f2e"/>
<rect x="224.40" y="277.70" width="3.6" height="3.6" fill="#be0f2e"/>
<rect x="224.40" y="287.70" width="3.6" height="3.6" fill="#be0f2e"/>
<line x1="223.00" y1="261.00" x2="229.00" y2="261.00" stroke="#be0f2e" stroke-width="1.25" />
<circle cx="297.50" cy="300.90" r="1.3" fill="#18324f"/>
<circle cx="295.70" cy="306.30" r="1.3" fill="#18324f"/>
<circle cx="298.20" cy="305.80" r="1.3" fill="#18324f"/>
<circle cx="299.70" cy="305.40" r="1.3" fill="#18324f"/>
<circle cx="296.70" cy="309.60" r="1.3" fill="#18324f"/>
<line x1="294.50" y1="305.00" x2="300.50" y2="305.00" stroke="#18324f" stroke-width="1.25" />
<rect x="307.40" y="290.30" width="2.6" height="2.6" fill="#be0f2e"/>
<rect x="304.80" y="297.10" width="2.6" height="2.6" fill="#be0f2e"/>
<rect x="308.80" y="299.30" width="2.6" height="2.6" fill="#be0f2e"/>
<rect x="305.90" y="300.80" width="2.6" height="2.6" fill="#be0f2e"/>
<rect x="307.40" y="302.30" width="2.6" height="2.6" fill="#be0f2e"/>
<rect x="309.60" y="301.20" width="2.6" height="2.6" fill="#be0f2e"/>
<line x1="305.50" y1="301.00" x2="311.50" y2="301.00" stroke="#be0f2e" stroke-width="1.25" />
<circle cx="327.30" cy="256.10" r="1.3" fill="#18324f"/>
<circle cx="325.00" cy="261.00" r="1.3" fill="#18324f"/>
<circle cx="327.90" cy="260.80" r="1.3" fill="#18324f"/>
<circle cx="330.20" cy="262.50" r="1.3" fill="#18324f"/>
<circle cx="326.70" cy="261.90" r="1.3" fill="#18324f"/>
<circle cx="327.30" cy="284.90" r="1.3" fill="#18324f"/>
<rect x="338.10" y="240.80" width="2.6" height="2.6" fill="#be0f2e"/>
<rect x="338.10" y="243.30" width="2.6" height="2.6" fill="#be0f2e"/>
<rect x="336.40" y="250.20" width="2.6" height="2.6" fill="#be0f2e"/>
<rect x="339.30" y="251.40" width="2.6" height="2.6" fill="#be0f2e"/>
<rect x="337.50" y="253.70" width="2.6" height="2.6" fill="#be0f2e"/>
<rect x="338.10" y="256.00" width="2.6" height="2.6" fill="#be0f2e"/>
<rect x="337.00" y="258.30" width="2.6" height="2.6" fill="#be0f2e"/>
<rect x="338.10" y="259.50" width="2.6" height="2.6" fill="#be0f2e"/>
<circle cx="357.30" cy="251.30" r="1.3" fill="#18324f"/>
<circle cx="356.10" cy="259.00" r="1.3" fill="#18324f"/>
<circle cx="358.40" cy="260.20" r="1.3" fill="#18324f"/>
<circle cx="355.60" cy="262.50" r="1.3" fill="#18324f"/>
<circle cx="359.60" cy="262.50" r="1.3" fill="#18324f"/>
<rect x="367.70" y="283.80" width="2.6" height="2.6" fill="#be0f2e"/>
<rect x="366.90" y="293.20" width="2.6" height="2.6" fill="#be0f2e"/>
<rect x="368.20" y="295.80" width="2.6" height="2.6" fill="#be0f2e"/>
<rect x="365.60" y="299.90" width="2.6" height="2.6" fill="#be0f2e"/>
<rect x="368.20" y="301.20" width="2.6" height="2.6" fill="#be0f2e"/>
<rect x="366.90" y="303.90" width="2.6" height="2.6" fill="#be0f2e"/>
<line x1="366.00" y1="299.80" x2="372.00" y2="299.80" stroke="#be0f2e" stroke-width="1.25" />
<circle cx="388.40" cy="241.50" r="1.3" fill="#18324f"/>
<circle cx="387.20" cy="259.80" r="1.3" fill="#18324f"/>
<circle cx="389.60" cy="260.60" r="1.3" fill="#18324f"/>
<circle cx="386.90" cy="261.80" r="1.3" fill="#18324f"/>
<circle cx="390.60" cy="261.80" r="1.3" fill="#18324f"/>
<circle cx="388.40" cy="282.70" r="1.3" fill="#18324f"/>
<line x1="385.40" y1="258.80" x2="392.30" y2="258.80" stroke="#18324f" stroke-width="1.1" />
<line x1="388.40" y1="255.20" x2="388.40" y2="262.00" stroke="#18324f" stroke-width="1.0" />
<line x1="386.90" y1="255.20" x2="389.90" y2="255.20" stroke="#18324f" stroke-width="1.0" />
<rect x="399.10" y="229.10" width="2.6" height="2.6" fill="#be0f2e"/>
<rect x="399.10" y="239.00" width="2.6" height="2.6" fill="#be0f2e"/>
<rect x="399.10" y="248.60" width="2.6" height="2.6" fill="#be0f2e"/>
<rect x="397.00" y="256.00" width="2.6" height="2.6" fill="#be0f2e"/>
<rect x="401.20" y="256.30" width="2.6" height="2.6" fill="#be0f2e"/>
<rect x="397.60" y="260.50" width="2.6" height="2.6" fill="#be0f2e"/>
<rect x="400.00" y="260.50" width="2.6" height="2.6" fill="#be0f2e"/>
<rect x="399.10" y="268.00" width="2.6" height="2.6" fill="#be0f2e"/>
<rect x="399.10" y="276.00" width="2.6" height="2.6" fill="#be0f2e"/>
<line x1="396.50" y1="255.80" x2="404.30" y2="255.80" stroke="#be0f2e" stroke-width="1.1" />
<line x1="400.40" y1="251.30" x2="400.40" y2="260.30" stroke="#be0f2e" stroke-width="1.0" />
<line x1="398.60" y1="251.30" x2="402.20" y2="251.30" stroke="#be0f2e" stroke-width="1.0" />
<circle cx="419.20" cy="248.40" r="1.3" fill="#18324f"/>
<circle cx="416.80" cy="261.20" r="1.3" fill="#18324f"/>
<circle cx="421.30" cy="261.60" r="1.3" fill="#18324f"/>
<circle cx="419.20" cy="264.00" r="1.3" fill="#18324f"/>
<circle cx="419.20" cy="276.10" r="1.3" fill="#18324f"/>
<circle cx="419.20" cy="279.70" r="1.3" fill="#18324f"/>
<circle cx="419.20" cy="283.60" r="1.3" fill="#18324f"/>
<line x1="415.30" y1="259.40" x2="422.80" y2="259.40" stroke="#18324f" stroke-width="1.1" />
<path d="M419.2 271.4 L421.0 274.4 L417.4 274.4 Z" fill="#4f79b0"/>
<rect x="428.00" y="247.10" width="2.6" height="2.6" fill="#be0f2e"/>
<rect x="425.90" y="254.50" width="2.6" height="2.6" fill="#be0f2e"/>
<rect x="431.00" y="255.10" width="2.6" height="2.6" fill="#be0f2e"/>
<rect x="426.80" y="259.00" width="2.6" height="2.6" fill="#be0f2e"/>
<rect x="428.90" y="260.50" width="2.6" height="2.6" fill="#be0f2e"/>
<rect x="428.90" y="280.50" width="2.6" height="2.6" fill="#be0f2e"/>
<rect x="425.90" y="290.30" width="2.6" height="2.6" fill="#be0f2e"/>
<rect x="431.00" y="290.30" width="2.6" height="2.6" fill="#be0f2e"/>
<rect x="428.00" y="295.70" width="2.6" height="2.6" fill="#be0f2e"/>
<line x1="426.00" y1="258.60" x2="433.60" y2="258.60" stroke="#be0f2e" stroke-width="1.1" />
<circle cx="446.60" cy="311.20" r="1.5" fill="#18324f"/>
<circle cx="449.00" cy="310.20" r="1.5" fill="#18324f"/>
<circle cx="451.20" cy="311.30" r="1.5" fill="#18324f"/>
<circle cx="448.20" cy="312.00" r="1.5" fill="#18324f"/>
<rect x="458.85" y="304.85" width="2.7" height="2.7" fill="#be0f2e"/>
<rect x="457.05" y="308.05" width="2.7" height="2.7" fill="#be0f2e"/>
<rect x="460.65" y="308.05" width="2.7" height="2.7" fill="#be0f2e"/>
<rect x="458.85" y="310.25" width="2.7" height="2.7" fill="#be0f2e"/>
<rect x="456.25" y="310.45" width="2.7" height="2.7" fill="#be0f2e"/>
<rect x="461.45" y="310.45" width="2.7" height="2.7" fill="#be0f2e"/>
</svg>
</body></html>
